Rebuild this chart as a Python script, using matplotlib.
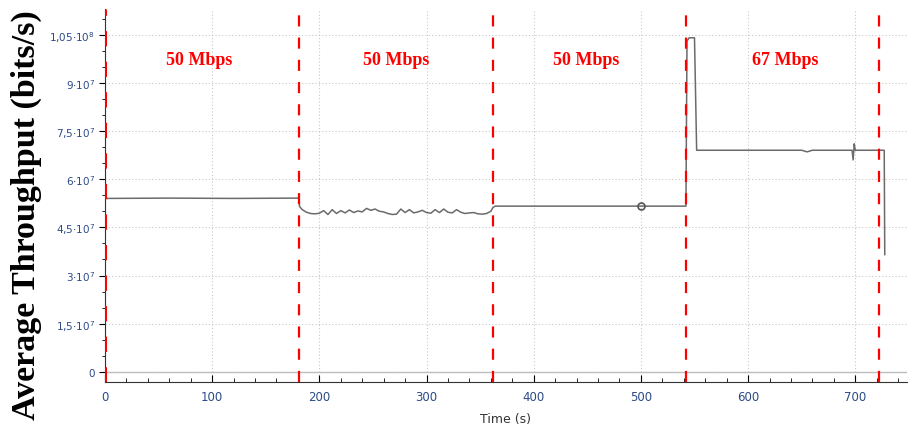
import numpy as np
import matplotlib.pyplot as plt
from matplotlib.ticker import MultipleLocator

# throughput trace (time in s, throughput in bits/s)
t_seg1 = [0, 60, 120, 181]
y_seg1 = [5.4e7, 5.41e7, 5.4e7, 5.41e7]

t_seg2 = [181.5, 184, 188, 192, 196, 200, 204, 208, 212, 216, 220, 224, 228, 232, 236,
          240, 244, 248, 252, 256, 260, 264, 268, 272, 276, 280, 284, 288, 292,
          296, 300, 304, 308, 312, 316, 320, 324, 328, 332, 336, 340, 344, 348,
          352, 356, 360]
y_seg2 = [5.15e7, 5.05e7, 4.97e7, 4.93e7, 4.92e7, 4.94e7, 5.02e7, 4.9e7, 5.05e7, 4.93e7,
          5.02e7, 4.95e7, 5.04e7, 4.96e7, 5.01e7, 4.98e7, 5.09e7, 5.03e7, 5.07e7, 5.0e7,
          4.98e7, 4.93e7, 4.9e7, 4.91e7, 5.07e7, 4.96e7, 5.05e7, 4.95e7, 4.98e7, 5.03e7,
          4.96e7, 4.94e7, 5.05e7, 4.96e7, 5.07e7, 4.97e7, 4.95e7, 5.05e7, 4.97e7, 4.93e7,
          4.95e7, 4.96e7, 4.92e7, 4.91e7, 4.93e7, 5.0e7]

t_seg3 = [362, 364, 420, 498, 502, 542]
y_seg3 = [5.12e7, 5.16e7, 5.16e7, 5.16e7, 5.16e7, 5.16e7]

t_seg4 = [543, 545, 550, 552, 600, 650, 655, 660, 697, 698, 699, 700, 727, 727.5]
y_seg4 = [1.03e8, 1.04e8, 1.04e8, 6.9e7, 6.9e7, 6.9e7, 6.85e7, 6.9e7, 6.9e7, 6.6e7, 7.1e7, 6.9e7, 6.9e7, 3.65e7]

marker_t = 500
marker_y = 5.16e7

boundaries = [181, 362, 542, 722]
rate_labels = ["50 Mbps", "50 Mbps", "50 Mbps", "67 Mbps"]
label_x = [88, 272, 449, 635]

yticks = [0, 1.5e7, 3e7, 4.5e7, 6e7, 7.5e7, 9e7, 1.05e8]
ytick_labels = ["0", r"1,5$\cdot$10$^7$", r"3$\cdot$10$^7$", r"4,5$\cdot$10$^7$",
                r"6$\cdot$10$^7$", r"7,5$\cdot$10$^7$", r"9$\cdot$10$^7$", r"1,05$\cdot$10$^8$"]

t = t_seg1 + t_seg2 + t_seg3 + t_seg4
y = y_seg1 + y_seg2 + y_seg3 + y_seg4

fig = plt.figure(figsize=(9.09, 4.31), dpi=100)
ax = fig.add_axes([0.1155, 0.111, 0.882, 0.866])

ax.plot(t, y, color="#6b6b6b", lw=1.1, zorder=3)
ax.plot([marker_t], [marker_y], marker="o", ms=5, mfc="none", mec="#555555", mew=1.2, zorder=4)

for b in boundaries:
    ax.axvline(b, color="red", ls=(0, (5, 5)), lw=1.6, zorder=5)
ax.axvline(0, color="red", ls=(0, (5, 5)), lw=2.2, zorder=5)

for x, s in zip(label_x, rate_labels):
    ax.text(x, 9.72e7, s, color="red", fontsize=13, fontweight="bold",
            family="Liberation Serif", ha="center", va="center")

ax.axhline(0, color="#bbbbbb", lw=1, zorder=1)
ax.set_xlim(0, 748)
ax.set_ylim(-3.2e6, 1.13e8)
ax.set_yticks(yticks)
ax.set_yticklabels(ytick_labels)
ax.xaxis.set_major_locator(MultipleLocator(100))
ax.xaxis.set_minor_locator(MultipleLocator(20))
ax.yaxis.set_minor_locator(MultipleLocator(5e6))
ax.grid(True, which="major", color="#c8c8c8", ls=(0, (1, 2)), lw=0.8)

ax.tick_params(axis="y", which="both", direction="out", labelsize=7.5, labelcolor="#2b4a86", pad=3)
ax.tick_params(axis="y", which="major", length=4)
ax.tick_params(axis="y", which="minor", length=2)
ax.tick_params(axis="x", which="both", direction="in", labelsize=8.5, labelcolor="#2b4a86", pad=6)
ax.tick_params(axis="x", which="major", length=5)
ax.tick_params(axis="x", which="minor", length=3)

for side in ["top", "right"]:
    ax.spines[side].set_visible(False)
ax.spines["left"].set_color("#333333")
ax.spines["bottom"].set_color("#333333")

ax.set_xlabel("Time (s)", fontsize=9, color="#333333", labelpad=6)
ax.set_ylabel("Average Throughput (bits/s)", fontsize=24.5, fontweight="bold",
              family="Liberation Serif")
ax.yaxis.set_label_coords(-0.078, 0.45)

fig.savefig("out.png", dpi=100)
